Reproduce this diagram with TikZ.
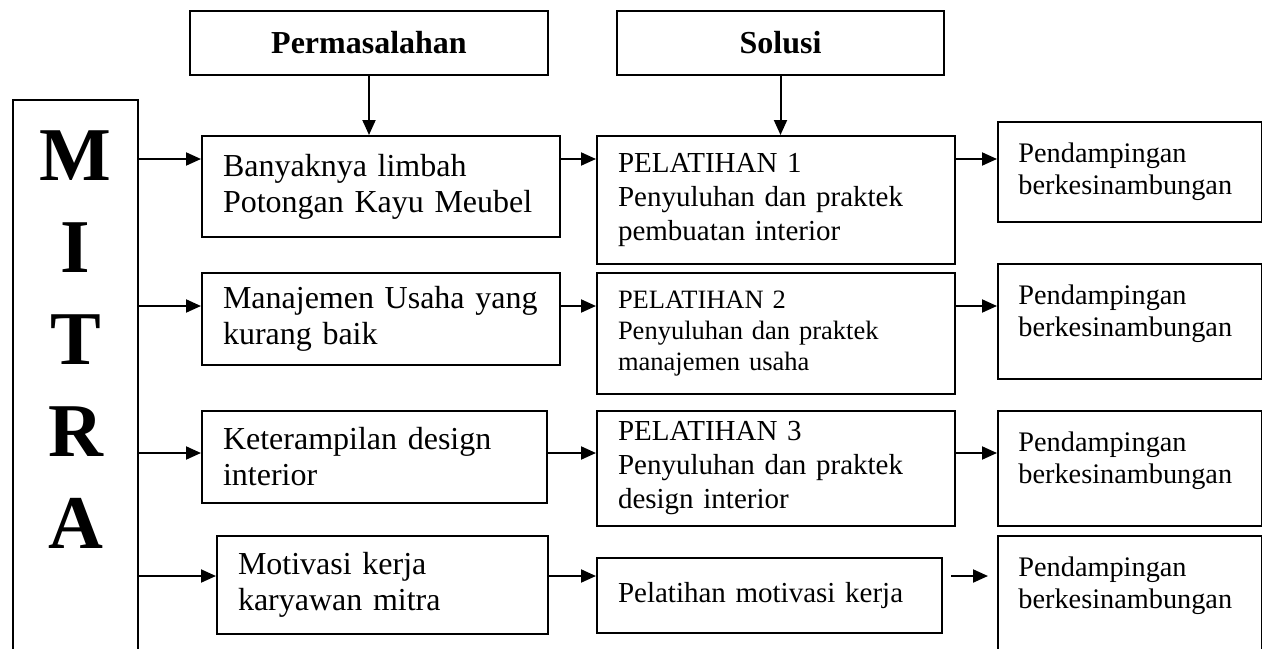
\documentclass[tikz,border=0pt]{standalone}
\usepackage{fontspec}
\setmainfont{Liberation Serif}
\usetikzlibrary{arrows.meta, positioning}

\tikzset{
  box/.style={draw, rectangle, line width=1pt, anchor=north west, inner xsep=10.5pt, inner ysep=0pt, align=left},
  hdr/.style={draw, rectangle, line width=1pt, anchor=north west, inner sep=0pt, font=\bfseries\fontsize{16}{18}\selectfont},
  pend/.style={draw, rectangle, line width=1pt, anchor=north west, minimum width=132pt, inner sep=0pt,
    label={[anchor=north west, align=left, inner sep=0pt, xshift=10.5pt, yshift=-10.5pt, font=\fontsize{14.15}{16}\selectfont]north west:#1}},
  arr/.style={line width=1pt, -{Triangle[length=7.5pt, width=6.5pt]}},
  ptxt/.style={font=\fontsize{16}{18}\selectfont},
  stxt/.style={font=\fontsize{14.5}{17}\selectfont}
}

\begin{document}
\begin{tikzpicture}[x=0.5pt, y=-0.5pt]
\useasboundingbox (0,0) rectangle (1262,648);

\node[hdr, minimum width=179pt, minimum height=32pt] (hdrP) at (189,10) {Permasalahan};
\node[hdr, minimum width=163.5pt, minimum height=32pt] (hdrS) at (616,10) {Solusi};

\node[draw, line width=1pt, anchor=north west, inner sep=0pt, minimum width=62.5pt, minimum height=300.5pt] (mitra) at (12,99) {};
\node[anchor=north, inner sep=0pt, align=center, font=\bfseries\fontsize{38}{46}\selectfont] (mitraTxt) at (mitra.north |- 0,130) {M\\I\\T\\R\\A};

\node[box, ptxt, text width=158pt, minimum height=50.5pt] (p1) at (201,135) {Banyaknya limbah\\Potongan Kayu Meubel};
\node[box, ptxt, text width=158pt, minimum height=46pt] (p2) at (201,272) {Manajemen Usaha yang\\kurang baik};
\node[box, ptxt, text width=151.5pt, minimum height=46pt] (p3) at (201,410) {Keterampilan design\\interior};
\node[box, ptxt, text width=144.5pt, minimum height=49pt] (p4) at (216,535) {Motivasi kerja\\karyawan mitra};

\node[box, stxt, text width=158pt, minimum height=64pt] (s1) at (596,135) {PELATIHAN 1\\Penyuluhan dan praktek\\pembuatan interior};
\node[box, font=\fontsize{13.25}{15.5}\selectfont, text width=158pt, minimum height=60.5pt] (s2) at (596,272) {PELATIHAN 2\\Penyuluhan dan praktek\\manajemen usaha};
\node[box, stxt, text width=158pt, minimum height=57.5pt] (s3) at (596,410) {PELATIHAN 3\\Penyuluhan dan praktek\\design interior};
\node[box, stxt, text width=151.5pt, minimum height=37.5pt] (s4) at (596,557) {Pelatihan motivasi kerja};

\node[pend={Pendampingan\\berkesinambungan}, minimum height=50pt] (d1) at (997,121) {};
\node[pend={Pendampingan\\berkesinambungan}, minimum height=57.5pt] (d2) at (997,263) {};
\node[pend={Pendampingan\\berkesinambungan}, minimum height=57.5pt] (d3) at (997,410) {};
\node[pend={Pendampingan\\berkesinambungan}, minimum height=82.5pt] (d4) at (997,535) {};

\coordinate (r1) at (0,159);
\coordinate (r2) at (0,306);
\coordinate (r3) at (0,453);
\coordinate (r4) at (0,576);

\draw[arr] (hdrP.south) -- (hdrP.south |- p1.north);
\draw[arr] (hdrS.south) -- (hdrS.south |- s1.north);

\draw[arr] (mitra.east |- r1) -- (p1.west |- r1);
\draw[arr] (mitra.east |- r2) -- (p2.west |- r2);
\draw[arr] (mitra.east |- r3) -- (p3.west |- r3);
\draw[arr] (mitra.east |- r4) -- (p4.west |- r4);

\draw[arr] (p1.east |- r1) -- (s1.west |- r1);
\draw[arr] (p2.east |- r2) -- (s2.west |- r2);
\draw[arr] (p3.east |- r3) -- (s3.west |- r3);
\draw[arr] (p4.east |- r4) -- (s4.west |- r4);

\draw[arr] (s1.east |- r1) -- (d1.west |- r1);
\draw[arr] (s2.east |- r2) -- (d2.west |- r2);
\draw[arr] (s3.east |- r3) -- (d3.west |- r3);
\draw[arr, shorten <=4pt, shorten >=4.5pt] (s4.east |- r4) -- (d4.west |- r4);

\end{tikzpicture}
\end{document}
